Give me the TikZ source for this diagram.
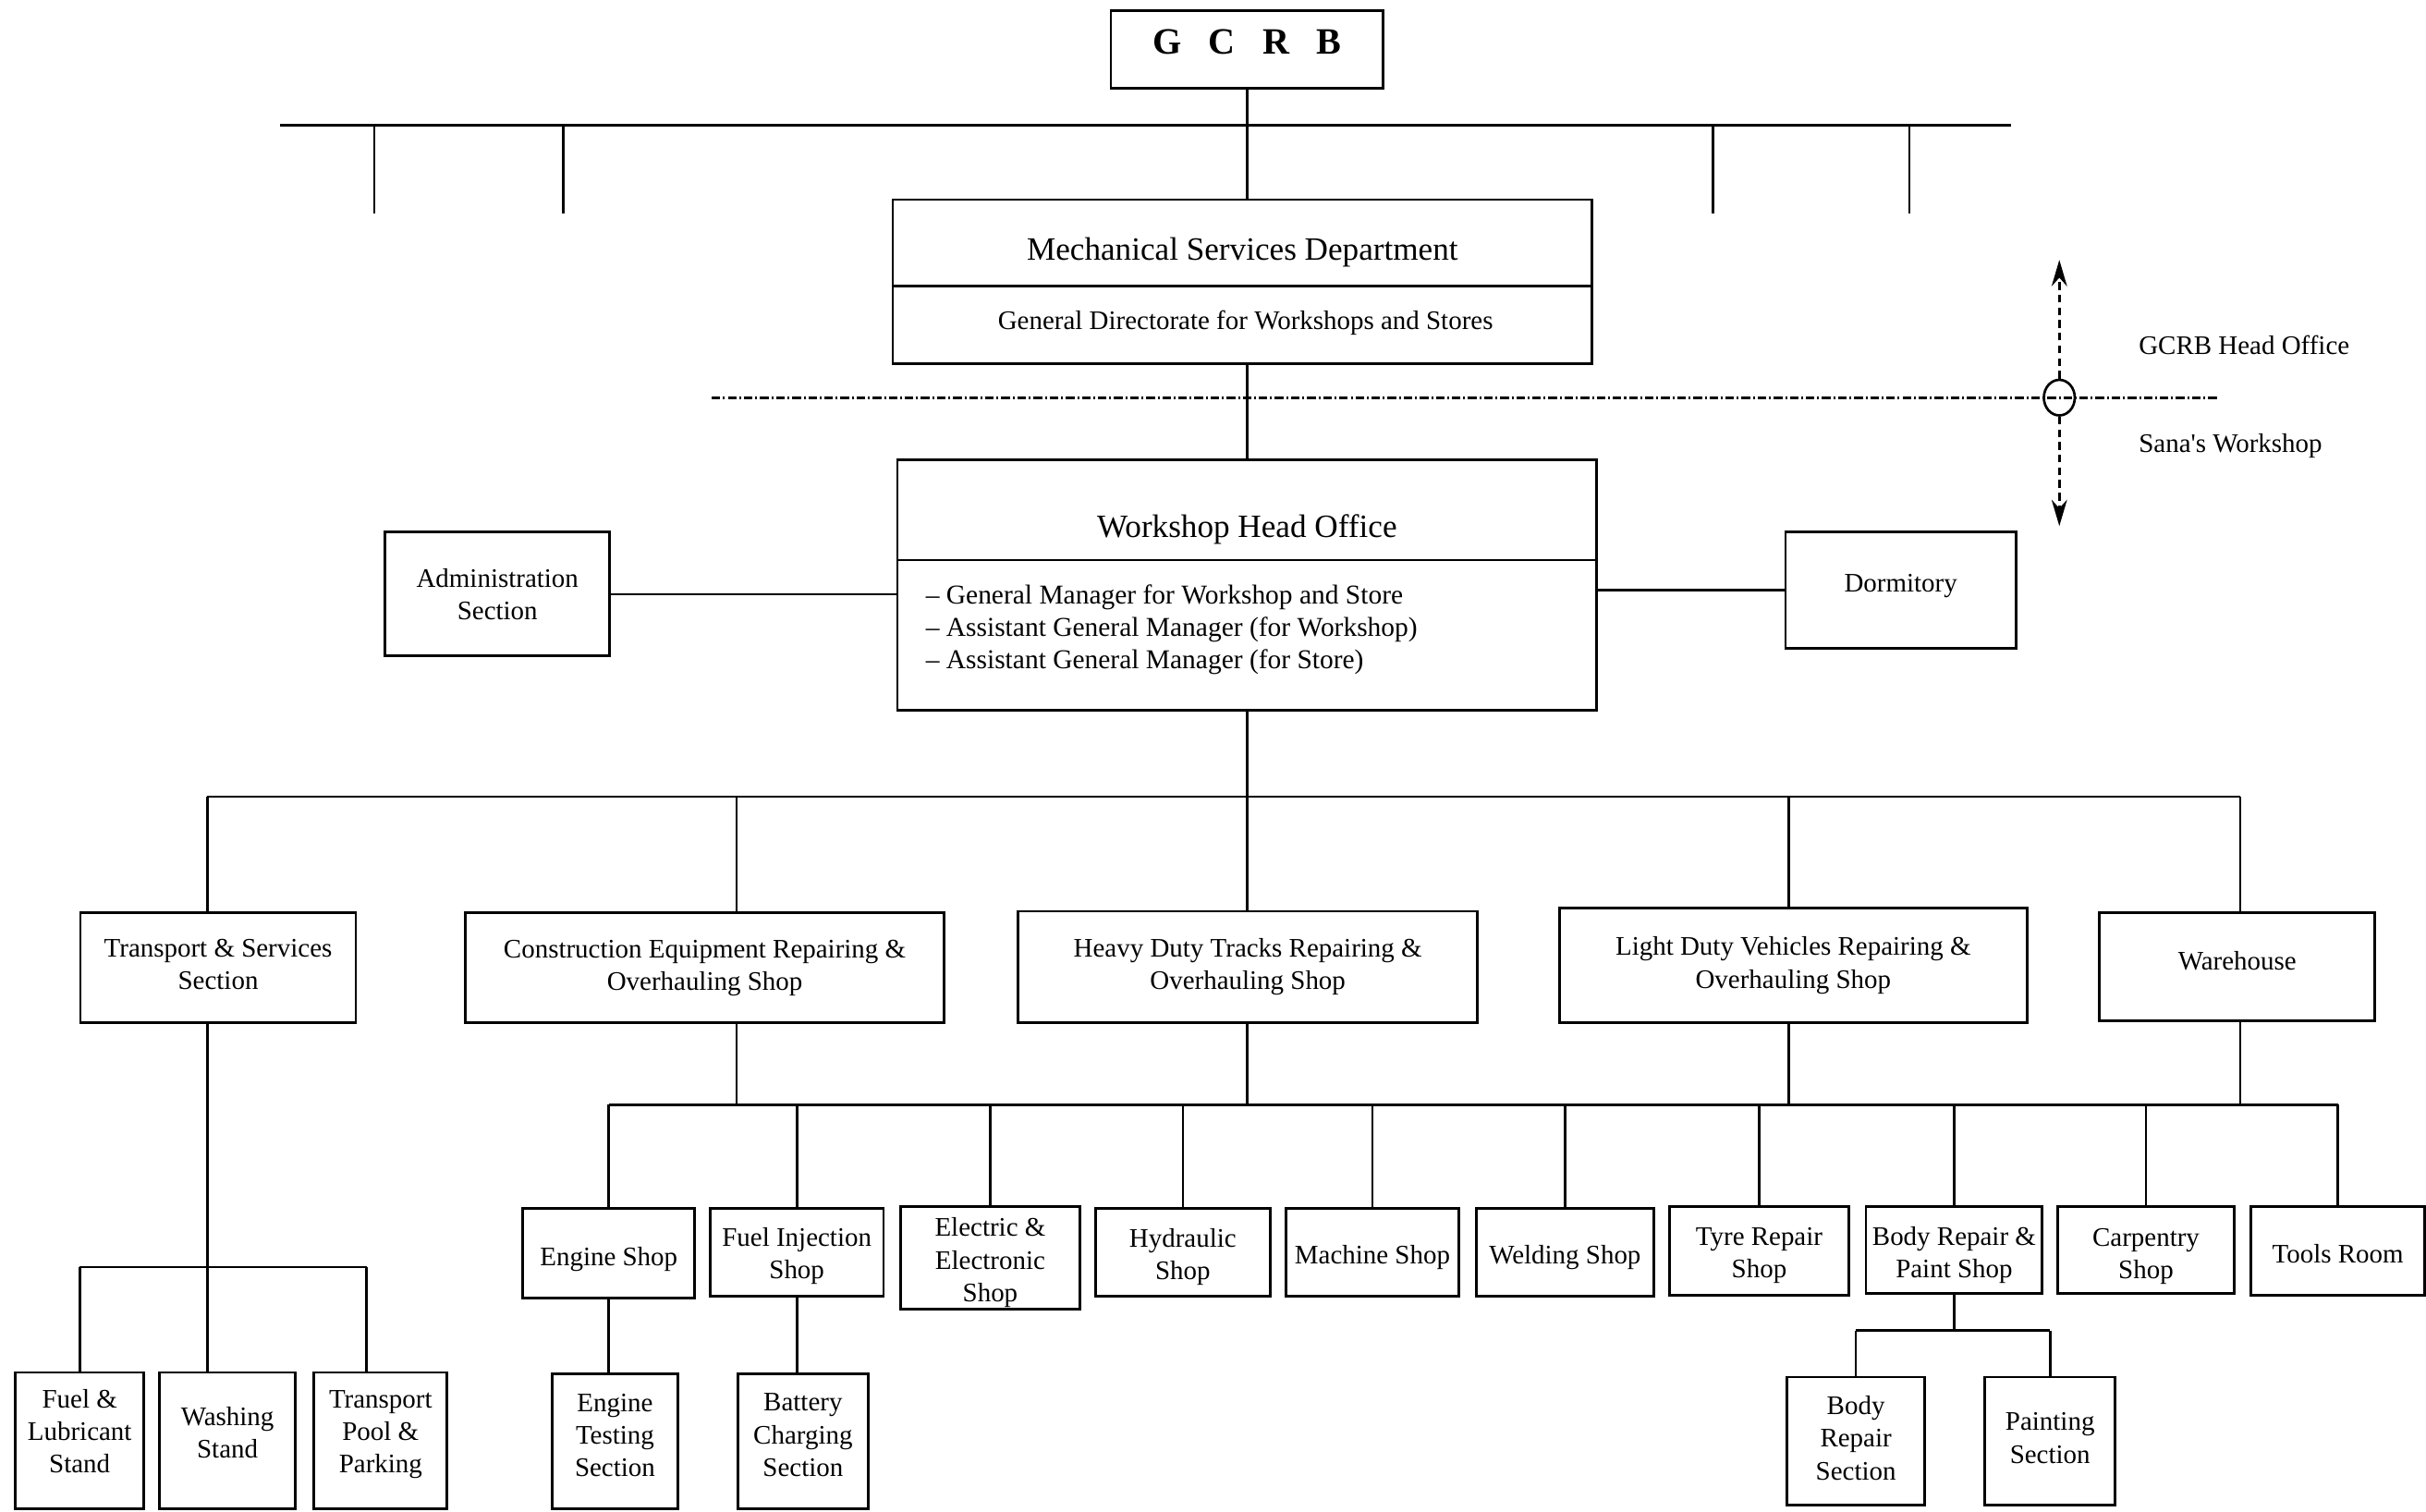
\documentclass[tikz,border=0pt]{standalone}
\usepackage{fontspec}
\setmainfont{Liberation Serif}
\usetikzlibrary{fit,arrows.meta,shapes.geometric}
\newcommand{\obox}[5][0]{%
  \node[box, fit={#3 #4}] (#2) {};
  \node[btxt] (#2-t) at ([yshift=#1]#2.center) {#5};}
\begin{document}
\begin{tikzpicture}[x=0.5pt,y=-0.5pt]
\tikzset{
  box/.style={draw, line width=0.85pt, inner sep=0pt},
  btxt/.style={inner sep=0pt, align=center, font=\fontsize{8.65pt}{10.5pt}\selectfont},
  wire/.style={line width=0.8pt},
  title/.style={font=\fontsize{10.5pt}{12pt}\selectfont, inner sep=0pt},
  txt/.style={font=\fontsize{8.65pt}{10.5pt}\selectfont, inner sep=0pt},
  dashdot/.style={line width=0.9pt, dash pattern=on 2.8pt off 0.9pt on 0.6pt off 0.9pt},
  darrow/.style={line width=0.8pt, dash pattern=on 2.5pt off 1.6pt, -{Stealth[length=8.5pt,width=5pt]}},
}
\path[use as bounding box] (0,0) rectangle (1568,977);
\clip (0,0) rectangle (1568,977);
\fill[white] (0,0) rectangle (1568,977);

% ---------- top ----------
\node[box, fit={(718,7) (894,57)}] (gcrb) {};
\node[inner sep=0pt, font=\fontsize{12pt}{14pt}\selectfont\bfseries] (gcrb-t) at ([yshift=2.5pt]gcrb.center) {G\hspace{8.8pt}C\hspace{8.8pt}R\hspace{8.8pt}B};

\coordinate (tl) at (181,81);
\coordinate (tr) at (1300,81);
\draw[wire] (tl) -- (tr);
\foreach \i/\x in {1/242,2/364,3/1107,4/1234}{
  \coordinate (ta\i) at (\x,81);
  \coordinate (tb\i) at (\x,138);
  \draw[wire] (ta\i) -- (tb\i);
}

\node[box, fit={(577,129) (1029,235)}] (msd) {};
\coordinate (msdl) at (577,185);
\draw[wire] (msdl) -- (msdl -| msd.east);
\node[title] (msdt) at (803,163) {Mechanical Services Department};
\node[txt] (gdws) at (805,209) {General Directorate for Workshops and Stores};
\draw[wire] (gcrb.south) -- (gcrb.south |- msd.north);

% ---------- boundary ----------
\coordinate (dl) at (460,257);
\coordinate (dr) at (1434,257);
\draw[dashdot] (dl) -- (dr);
\node[draw, ellipse, line width=0.8pt, minimum width=10pt, minimum height=11.5pt, inner sep=0pt] (sep) at (1331,257) {};
\coordinate (aup) at (1331,168);
\coordinate (adn) at (1331,340);
\draw[darrow] (sep.north) -- (aup);
\draw[darrow] (sep.south) -- (adn);
\node[txt, anchor=west] (hoff) at (1382,223) {GCRB Head Office};
\node[txt, anchor=west] (sana) at (1382,288) {Sana\textquotesingle s Workshop};

% ---------- workshop head office ----------
\node[box, fit={(580,297) (1032,459)}] (who) {};
\coordinate (whol) at (580,362);
\draw[wire] (whol) -- (whol -| who.east);
\node[title] (whot) at (806,342) {Workshop Head Office};
\node[txt, align=left, anchor=west, font=\fontsize{8.8pt}{10.5pt}\selectfont] (mgr) at (598,407)
  {-- General Manager for Workshop and Store\\-- Assistant General Manager (for Workshop)\\-- Assistant General Manager (for Store)};
\draw[wire] (msd.south -| who.north) -- (who.north);

\obox{adm}{(249,344)}{(394,424)}{Administration\\Section}
\obox[1.5pt]{dorm}{(1154,344)}{(1303,419)}{Dormitory}
\draw[wire] (adm.east) -- (adm.east -| who.west);
\draw[wire] (who.east |- dorm.west) -- (dorm.west);

% ---------- second level ----------
\obox[1pt]{ts}{(52,590)}{(230,661)}{Transport \& Services\\Section}
\obox{ce}{(301,590)}{(610,661)}{Construction Equipment Repairing \&\\Overhauling Shop}
\obox{hd}{(658,589)}{(955,661)}{Heavy Duty Tracks Repairing \&\\Overhauling Shop}
\obox{ld}{(1008,587)}{(1310,661)}{Light Duty Vehicles Repairing \&\\Overhauling Shop}
\obox[2pt]{wh}{(1357,590)}{(1535,660)}{Warehouse}

\coordinate (b1) at (134,515);
\coordinate (b2) at (476,515);
\coordinate (b3) at (806,515);
\coordinate (b4) at (1156,515);
\coordinate (b5) at (1448,515);
\draw[wire] (b1) -- (b5);
\draw[wire] (who.south) -- (b3);
\draw[wire] (b1) -- (b1 |- ts.north);
\draw[wire] (b2) -- (b2 |- ce.north);
\draw[wire] (b3) -- (b3 |- hd.north);
\draw[wire] (b4) -- (b4 |- ld.north);
\draw[wire] (b5) -- (b5 |- wh.north);

% ---------- shops ----------
\obox[-2pt]{es}{(338,781)}{(449,839)}{Engine Shop}
\obox[-1.25pt]{fi}{(459,781)}{(571,838)}{Fuel Injection\\Shop}
\obox[-1.5pt]{ee}{(582,780)}{(698,846)}{Electric \&\\Electronic\\Shop}
\obox[-1.5pt]{hy}{(708,781)}{(821,838)}{Hydraulic\\Shop}
\obox[-1.5pt]{ma}{(831,781)}{(943,838)}{Machine Shop}
\obox[-1.5pt]{we}{(954,781)}{(1069,838)}{Welding Shop}
\obox[-1.5pt]{ty}{(1079,780)}{(1195,837)}{Tyre Repair\\Shop}
\obox[-1.5pt]{bp}{(1206,780)}{(1320,836)}{Body Repair \&\\Paint Shop}
\obox[-2pt]{cp}{(1330,780)}{(1444,836)}{Carpentry\\Shop}
\obox[-1pt]{tr}{(1455,780)}{(1567,837)}{Tools Room}

\coordinate (sbl) at (393.5,714);
\coordinate (sbr) at (1511,714);
\draw[wire] (sbl) -- (sbr);
\draw[wire] (ce.south -| b2) -- (b2 |- sbl);
\draw[wire] (hd.south -| b3) -- (b3 |- sbl);
\draw[wire] (ld.south -| b4) -- (b4 |- sbl);
\draw[wire] (wh.south -| b5) -- (b5 |- sbl);
\foreach \n in {es,fi,ee,hy,ma,we,ty,bp,cp,tr}{
  \draw[wire] (\n.north) -- (\n.north |- sbl);
}

% ---------- third level ----------
\obox[2pt]{et}{(357,888)}{(438,975)}{Engine\\Testing\\Section}
\obox[2pt]{bc}{(477,888)}{(561,975)}{Battery\\Charging\\Section}
\draw[wire] (es.south) -- (es.south |- et.north);
\draw[wire] (fi.south) -- (fi.south |- bc.north);

\obox[1pt]{brs}{(1155,890)}{(1244,973)}{Body\\Repair\\Section}
\obox[1pt]{pts}{(1283,890)}{(1367,973)}{Painting\\Section}
\coordinate (pb) at (1263,860);
\draw[wire] (bp.south) -- (pb);
\draw[wire] (brs.north |- pb) -- (pts.north |- pb);
\draw[wire] (brs.north |- pb) -- (brs.north);
\draw[wire] (pts.north |- pb) -- (pts.north);

\obox[3pt]{fl}{(10,887)}{(93,975)}{Fuel \&\\Lubricant\\Stand}
\obox[2.5pt]{ws}{(103,887)}{(191,975)}{Washing\\Stand}
\obox[2pt]{tp}{(203,887)}{(289,975)}{Transport\\Pool \&\\Parking}
\coordinate (tbl) at (51.5,819);
\coordinate (tbr) at (237,819);
\draw[wire] (ts.south -| b1) -- (b1 |- ws.north);
\draw[wire] (tbl) -- (tbr);
\draw[wire] (tbl) -- (fl.north);
\draw[wire] (tbr) -- (tbr |- tp.north);
\end{tikzpicture}
\end{document}
